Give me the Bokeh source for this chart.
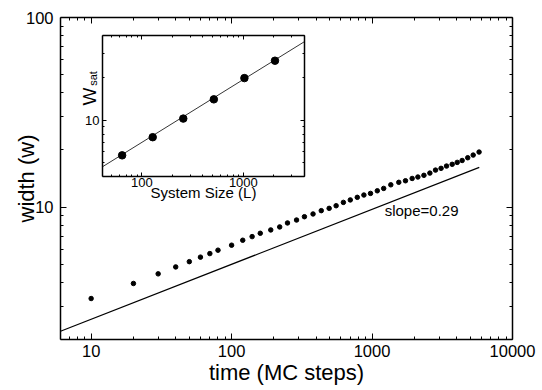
import math
from bokeh.plotting import figure
from bokeh.models import LogAxis, FixedTicker, Label, Range1d, PrintfTickFormatter
from bokeh.layouts import column
from bokeh.embed import file_html
from bokeh.resources import INLINE

# ---------------- main panel data ----------------
time_steps = [10, 20, 30, 40, 50, 60, 70, 80, 100, 120, 140, 160, 190, 220, 250,
              290, 330, 380, 435, 495, 555, 625, 700, 785, 875, 975, 1090, 1210,
              1360, 1550, 1730, 1930, 2120, 2340, 2580, 2830, 3100, 3390, 3720,
              4040, 4380, 4800, 5250, 5780]
width_w = [3.29, 3.95, 4.44, 4.83, 5.15, 5.44, 5.68, 5.92, 6.29, 6.68, 6.98, 7.27,
           7.57, 7.85, 8.24, 8.54, 8.89, 9.19, 9.57, 9.84, 10.16, 10.58, 10.9,
           11.25, 11.57, 11.8, 12.18, 12.54, 13.1, 13.5, 13.76, 14.15, 14.4, 14.7,
           15.1, 15.66, 16.0, 16.45, 16.8, 17.2, 17.6, 18.2, 18.8, 19.5]
fit_time = [6.05, 5800]
fit_width = [2.21, 16.2]
slope_text = "slope=0.29"

x_major = [10, 100, 1000, 10000]
x_minor = [7, 8, 9, 20, 30, 40, 50, 60, 70, 80, 90, 200, 300, 400, 500, 600, 700,
           800, 900, 2000, 3000, 4000, 5000, 6000, 7000, 8000, 9000]
y_major = [10, 100]
y_minor = [2, 3, 4, 5, 6, 7, 8, 9, 20, 30, 40, 50, 60, 70, 80, 90]

# ---------------- inset data ----------------
size_L = [64, 128, 256, 512, 1024, 2048]
w_sat = [5.65, 7.6, 10.3, 14.1, 19.95, 26.5]
inset_fit_L = [41, 4000]
inset_fit_w = [4.69, 36.2]
inset_x_major = [100, 1000]
inset_x_minor = [50, 60, 70, 80, 90, 200, 300, 400, 500, 600, 700, 800, 900,
                 2000, 3000, 4000]
inset_y_major = [10]
inset_y_minor = [4, 5, 6, 7, 8, 9, 20, 30, 40]

FONT = "Liberation Sans"


def style_axis(ax, ticks, minor, size, tin, tmin, show_labels=True, standoff=5):
    ax.ticker = FixedTicker(ticks=ticks, minor_ticks=minor)
    ax.formatter = PrintfTickFormatter(format="%d")
    ax.major_tick_in = tin
    ax.major_tick_out = 0
    ax.minor_tick_in = tmin
    ax.minor_tick_out = 0
    ax.axis_line_color = "black"
    ax.axis_line_width = 1.5
    ax.major_tick_line_color = "black"
    ax.minor_tick_line_color = "black"
    ax.major_tick_line_width = 1
    ax.minor_tick_line_width = 1
    ax.major_label_text_font = FONT
    ax.major_label_text_font_style = "normal"
    ax.axis_label_text_font = FONT
    ax.axis_label_text_font_style = "normal"
    ax.axis_label_text_color = "black"
    if show_labels:
        ax.major_label_text_color = "black"
        ax.major_label_text_font_size = size
        ax.major_label_standoff = standoff
    else:
        ax.major_label_text_color = None
        ax.major_label_text_font_size = "1px"
        ax.major_label_standoff = 0
        ax.axis_label = None
        ax.axis_label_standoff = 0
        ax.axis_label_text_font_size = "1px"


# ---------------- main figure ----------------
p = figure(width=542, height=390, x_axis_type="log", y_axis_type="log",
           x_range=Range1d(6.05, 10000), y_range=Range1d(2, 100),
           output_backend="svg", toolbar_location=None,
           min_border_left=60, min_border_right=30, min_border_top=17,
           min_border_bottom=51)
p.outline_line_color = None
p.background_fill_color = "white"
p.border_fill_color = "white"
p.xgrid.visible = False
p.ygrid.visible = False

style_axis(p.xaxis[0], x_major, x_minor, "16.5px", 6, 3, True, 5)
style_axis(p.yaxis[0], y_major, y_minor, "16.5px", 6, 3, True, 7)
p.xaxis[0].axis_label = "time (MC steps)"
p.xaxis[0].axis_label_text_font_size = "22px"
p.xaxis[0].axis_label_standoff = 0
p.yaxis[0].axis_label = "width (w)"
p.yaxis[0].axis_label_text_font_size = "22px"
p.yaxis[0].axis_label_standoff = -16

top_ax = LogAxis()
style_axis(top_ax, x_major, x_minor, "1px", 6, 3, False)
p.add_layout(top_ax, "above")
right_ax = LogAxis()
style_axis(right_ax, y_major, y_minor, "1px", 6, 3, False)
p.add_layout(right_ax, "right")

p.line(fit_time, fit_width, line_color="black", line_width=1.2)
p.scatter(time_steps, width_w, size=4.5, fill_color="black", line_color="black")
p.add_layout(Label(x=1230, y=9.6, text=slope_text, text_font=FONT,
                   text_font_size="15px", text_baseline="middle",
                   text_align="left", text_color="black"))

# inset y-axis title (W with subscript "sat"), drawn in the page area left of the inset
p.add_layout(Label(x=29, y=243, x_units="screen", y_units="screen", text="W",
                   angle=math.pi / 2, text_font=FONT, text_font_size="19px",
                   text_align="center", text_baseline="alphabetic",
                   text_color="black"))
p.add_layout(Label(x=32, y=261, x_units="screen", y_units="screen", text="sat",
                   angle=math.pi / 2, text_font=FONT, text_font_size="11px",
                   text_align="center", text_baseline="alphabetic",
                   text_color="black"))

# ---------------- inset figure ----------------
ins = figure(frame_width=202, frame_height=141, x_axis_type="log", y_axis_type="log",
             x_range=Range1d(41, 4000), y_range=Range1d(4, 40),
             output_backend="svg", toolbar_location=None,
             min_border_left=60, min_border_right=30, min_border_top=7,
             min_border_bottom=32)
ins.outline_line_color = None
ins.background_fill_color = "white"
ins.border_fill_color = None
ins.xgrid.visible = False
ins.ygrid.visible = False

style_axis(ins.xaxis[0], inset_x_major, inset_x_minor, "13px", 4, 2, True, 1)
style_axis(ins.yaxis[0], inset_y_major, inset_y_minor, "13px", 4, 2, True, 3)
ins.xaxis[0].axis_label = "System Size (L)"
ins.xaxis[0].axis_label_text_font_size = "15px"
ins.xaxis[0].axis_label_standoff = -6
ins.yaxis[0].axis_label = None
ins.yaxis[0].axis_label_standoff = 0
ins.yaxis[0].axis_label_text_font_size = "1px"

itop = LogAxis()
style_axis(itop, inset_x_major, inset_x_minor, "1px", 4, 2, False)
ins.add_layout(itop, "above")
iright = LogAxis()
style_axis(iright, inset_y_major, inset_y_minor, "1px", 4, 2, False)
ins.add_layout(iright, "right")

ins.line(inset_fit_L, inset_fit_w, line_color="black", line_width=0.8)
ins.scatter(size_L, w_sat, size=7.5, fill_color="black", line_color="black")

# inset placed over the main plot (its left border is 60px, like the main plot's)
ins.styles = {"position": "absolute", "left": "42px", "top": "28px"}
layout = column(p, ins, styles={"position": "relative"})

open("out.html", "w").write(file_html(layout, INLINE))
